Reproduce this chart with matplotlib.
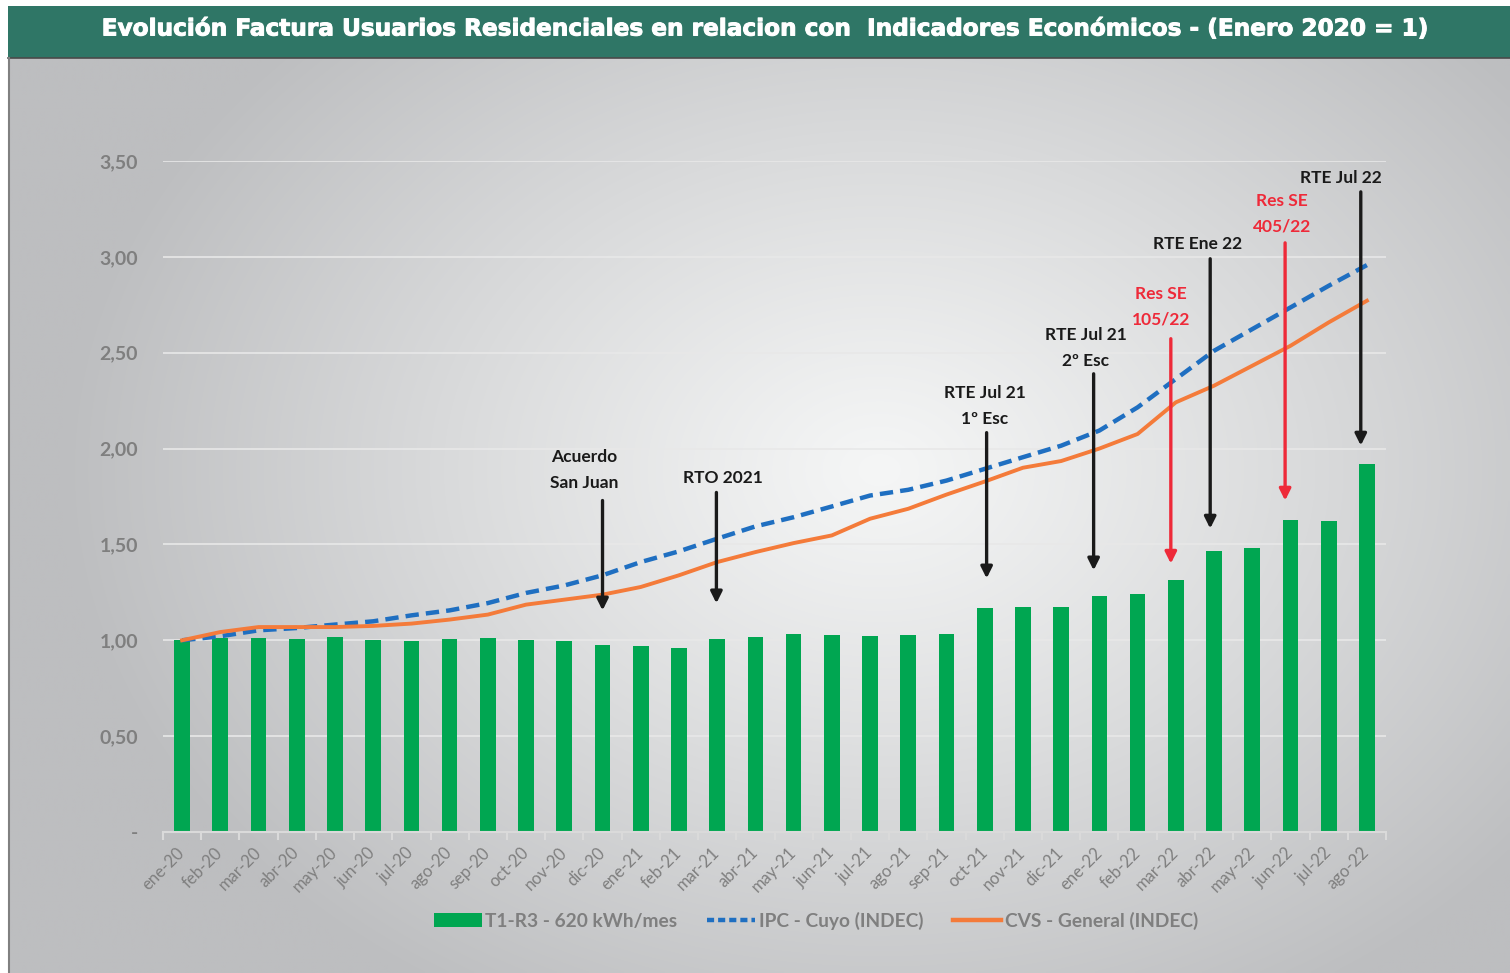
import numpy as np
import matplotlib
matplotlib.use("Agg")
import matplotlib.pyplot as plt
import matplotlib.patheffects as pe
from matplotlib.patches import Rectangle, Patch
from matplotlib.lines import Line2D

# ---------------- data ----------------
categories = ["ene-20", "feb-20", "mar-20", "abr-20", "may-20", "jun-20", "jul-20", "ago-20",
              "sep-20", "oct-20", "nov-20", "dic-20", "ene-21", "feb-21", "mar-21", "abr-21",
              "may-21", "jun-21", "jul-21", "ago-21", "sep-21", "oct-21", "nov-21", "dic-21",
              "ene-22", "feb-22", "mar-22", "abr-22", "may-22", "jun-22", "jul-22", "ago-22"]

factura_t1r3 = [1.000, 1.014, 1.014, 1.009, 1.019, 1.002, 0.996, 1.009, 1.011, 1.002, 0.998,
                0.977, 0.969, 0.962, 1.007, 1.017, 1.031, 1.028, 1.021, 1.029, 1.033, 1.168,
                1.172, 1.174, 1.229, 1.240, 1.313, 1.464, 1.483, 1.630, 1.623, 1.920]

ipc_cuyo = [1.000, 1.021, 1.052, 1.064, 1.082, 1.099, 1.130, 1.156, 1.194, 1.247, 1.286,
            1.339, 1.408, 1.464, 1.530, 1.594, 1.642, 1.698, 1.755, 1.785, 1.833, 1.894,
            1.955, 2.015, 2.094, 2.215, 2.363, 2.510, 2.623, 2.736, 2.849, 2.957]

cvs_general = [1.000, 1.043, 1.069, 1.069, 1.069, 1.075, 1.087, 1.108, 1.134, 1.186, 1.212,
               1.238, 1.278, 1.339, 1.408, 1.460, 1.507, 1.547, 1.634, 1.686, 1.760, 1.828,
               1.900, 1.935, 2.000, 2.076, 2.241, 2.328, 2.432, 2.536, 2.658, 2.771]

series_names = ["T1-R3 - 620 kWh/mes", "IPC - Cuyo (INDEC)", "CVS - General (INDEC)"]

y_ticks = [0.0, 0.5, 1.0, 1.5, 2.0, 2.5, 3.0, 3.5]
y_tick_labels = ["-", "0,50", "1,00", "1,50", "2,00", "2,50", "3,00", "3,50"]

title_text = "Evolución Factura Usuarios Residenciales en relacion con  Indicadores Económicos - (Enero 2020 = 1)"

# annotations: text, text x, text y (center), arrow x, arrow tail y, arrow head y, colour kind
ann_texts = ["Acuerdo\nSan Juan", "RTO 2021", "RTE Jul 21\n1º Esc", "RTE Jul 21\n2º Esc",
             "Res SE\n105/22", "RTE Ene 22", "Res SE\n405/22", "RTE Jul 22"]
ann_text_x = [10.53, 14.14, 21.0, 23.64, 25.61, 26.58, 28.78, 30.33]
ann_text_y = [1.888, 1.849, 2.221, 2.523, 2.740, 3.068, 3.224, 3.411]
ann_arrow_x = [11.0, 13.98, 21.05, 23.85, 25.87, 26.9, 28.86, 30.84]
ann_tail_y = [1.729, 1.771, 2.083, 2.390, 2.573, 2.990, 3.073, 3.339]
ann_head_y = [1.156, 1.193, 1.323, 1.365, 1.400, 1.583, 1.729, 2.016]
ann_red = [False, False, False, False, True, False, True, False]

# ---------------- style ----------------
W, H = 1510, 973
FONT = "Lato"
GREEN = "#00A651"
BLUE = "#1F6FC1"
ORANGE = "#F47B3A"
GRAY_TXT = "#7F7F7F"
RED = "#EE2A39"
BLACK = "#1A1A1A"

plt.rcParams["font.family"] = [FONT, "DejaVu Sans"]

fig = plt.figure(figsize=(W / 100, H / 100), dpi=100)
fig.patch.set_facecolor("white")

# background layer (pixel coordinates)
bg = fig.add_axes([0, 0, 1, 1], zorder=-10)
bg.set_xlim(0, W)
bg.set_ylim(H, 0)
bg.axis("off")

px0, px1, py0, py1 = 9, W, 58, H
xx, yy = np.meshgrid(np.linspace(px0, px1, 400), np.linspace(py0, py1, 300))
cx, cy, rx, ry = 880, 470, 820, 620
d = np.sqrt(((xx - cx) / rx) ** 2 + ((yy - cy) / ry) ** 2)
d = np.clip(d, 0, 1) ** 1.1
light = np.array([245, 246, 246]) / 255
dark = np.array([189, 190, 192]) / 255
img = light[None, None, :] + (dark - light)[None, None, :] * d[..., None]
bg.imshow(img, extent=(px0, px1, py1, py0), aspect="auto", interpolation="bilinear")
bg.add_patch(Rectangle((8, 6), W - 8, 52, facecolor="#2F7666", edgecolor="none"))
bg.plot([8, W], [58, 58], color="#4A4A4A", lw=1.2)
bg.plot([9, 9], [58, H], color="#808080", lw=1.5)

t = bg.text(768, 29, title_text, color="white", fontsize=17, fontweight="bold",
            ha="center", va="center", family=["DejaVu Sans"])
fig.canvas.draw()
bb = t.get_window_extent()
t.set_fontsize(17 * 1328 / bb.width)
t.set_path_effects([pe.withStroke(linewidth=0.7, foreground="white")])

# ---------------- chart ----------------
ax = fig.add_axes([163 / W, 141 / H, 1223 / W, 671 / H])
ax.set_facecolor("none")
x = np.arange(len(categories))

ax.bar(x, factura_t1r3, width=0.41, color=GREEN, zorder=2, label=series_names[0])
ax.plot(x, ipc_cuyo, color=BLUE, lw=3.2, dashes=(3.0, 1.6), zorder=3, label=series_names[1])
ax.plot(x, cvs_general, color=ORANGE, lw=2.8, zorder=3, label=series_names[2],
        solid_joinstyle="round")

ax.set_xlim(-0.5, len(categories) - 0.5)
ax.set_ylim(0, 3.5)
ax.set_yticks(y_ticks)
ax.set_yticklabels(y_tick_labels)
ax.yaxis.grid(True, color="#E8E8E8", lw=1.2, zorder=0)
ax.set_axisbelow(True)
for s in ["left", "right", "top"]:
    ax.spines[s].set_visible(False)
ax.spines["bottom"].set_color("#DADADA")
ax.spines["bottom"].set_linewidth(1.5)
ax.tick_params(axis="y", length=0, pad=18, labelsize=14, labelcolor=GRAY_TXT)
for lab in ax.get_yticklabels():
    lab.set_fontweight("bold")

ax.set_xticks(x)
ax.set_xticklabels(categories, rotation=45, ha="right", va="center",
                   rotation_mode="anchor", fontsize=12, color=GRAY_TXT)
ax.tick_params(axis="x", which="major", length=0, pad=13)
ax.set_xticks(np.arange(-0.5, len(categories)), minor=True)
ax.tick_params(axis="x", which="minor", length=6, width=1.5, color="#DADADA")

# annotations
for txt, tx, ty, axx, ty0, ty1, red in zip(ann_texts, ann_text_x, ann_text_y, ann_arrow_x,
                                            ann_tail_y, ann_head_y, ann_red):
    c = RED if red else BLACK
    ax.text(tx, ty, txt, ha="center", va="center", fontsize=12.5, fontweight="bold",
            color=c, linespacing=1.75, zorder=5)
    ax.annotate("", xy=(axx, ty1), xytext=(axx, ty0),
                arrowprops=dict(arrowstyle="-|>", lw=2.4, color=c, mutation_scale=17,
                                shrinkA=0, shrinkB=0), zorder=5)

# legend
handles = [Patch(facecolor=GREEN, edgecolor="none"),
           Line2D([0], [0], color=BLUE, lw=3.2, dashes=(1.6, 0.9)),
           Line2D([0], [0], color=ORANGE, lw=3.2)]
leg = fig.legend(handles, series_names, loc="center", bbox_to_anchor=(816 / W, (H - 921) / H),
                 ncol=3, frameon=False, fontsize=13.8, handlelength=2.5, handleheight=0.75,
                 handletextpad=0.2, columnspacing=1.55)
for tx in leg.get_texts():
    tx.set_color(GRAY_TXT)
    tx.set_fontweight("bold")

fig.savefig("out.png", dpi=100)
